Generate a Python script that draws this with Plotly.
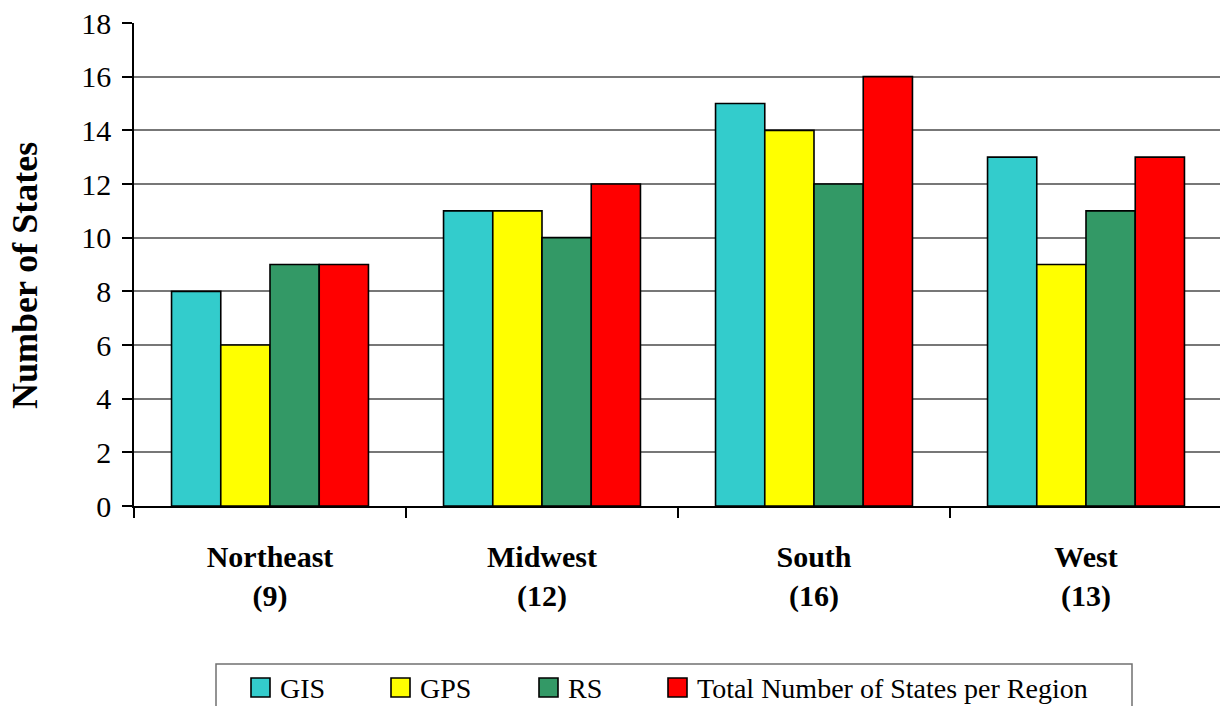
import plotly.graph_objects as go

# Survey results by census region
regions = ["Northeast", "Midwest", "South", "West"]
states_per_region = [9, 12, 16, 13]
gis = [8, 11, 15, 13]
gps = [6, 11, 14, 9]
rs = [9, 10, 12, 11]
total = [9, 12, 16, 13]

series_names = ["GIS", "GPS", "RS", "Total Number of States per Region"]
series_values = [gis, gps, rs, total]
series_colors = ["#33CCCC", "#FFFF00", "#339966", "#FF0000"]

y_ticks = list(range(0, 19, 2))
category_labels = [f"<b>{r}<br>({n})</b>" for r, n in zip(regions, states_per_region)]

FONT = "'Times New Roman', 'Liberation Serif', 'DejaVu Serif', serif"
W, H = 1220, 706
L, T, B, R = 134, 23, 200, 0
PLOT_W = W - L - R
PLOT_H = H - T - B


def px_x(x):
    return (x - L) / PLOT_W


def px_y(y):
    return (H - B - y) / PLOT_H


fig = go.Figure()
for name, vals, col in zip(series_names, series_values, series_colors):
    fig.add_trace(go.Bar(
        name=name, x=category_labels, y=vals,
        marker=dict(color=col, line=dict(color="black", width=1.6)),
        showlegend=False,
    ))

# boxed legend along the bottom edge
shapes = [dict(type="rect", xref="paper", yref="paper",
               x0=px_x(216), x1=px_x(1132), y0=px_y(730), y1=px_y(664),
               line=dict(color="#707070", width=1.5), fillcolor="white")]
annotations = []
swatch_x = [251, 391, 539, 668]
for sx, name, col in zip(swatch_x, series_names, series_colors):
    shapes.append(dict(type="rect", xref="paper", yref="paper",
                       x0=px_x(sx), x1=px_x(sx + 19), y0=px_y(697), y1=px_y(678),
                       line=dict(color="black", width=1.6), fillcolor=col))
    annotations.append(dict(xref="paper", yref="paper", x=px_x(sx + 27), y=px_y(688),
                            xanchor="left", yanchor="middle", showarrow=False,
                            text=name, font=dict(family=FONT, size=28, color="black")))

annotations.append(dict(xref="paper", yref="paper", x=px_x(25), y=px_y(276),
                        xanchor="center", yanchor="middle", showarrow=False,
                        textangle=-90, text="<b>Number of States</b>",
                        font=dict(family=FONT, size=36, color="black")))

fig.update_layout(
    width=W, height=H,
    margin=dict(l=L, r=R, t=T, b=B),
    paper_bgcolor="white", plot_bgcolor="white",
    barmode="group", bargap=0.276, bargroupgap=0,
    font=dict(family=FONT, color="black"),
    shapes=shapes, annotations=annotations,
    showlegend=False,
)
fig.update_xaxes(
    range=[-0.5, -0.5 + PLOT_W / 272.0],
    showline=True, linecolor="black", linewidth=1.5,
    ticks="outside", tickson="boundaries", ticklen=10, tickcolor="black", tickwidth=1.5,
    tickfont=dict(family=FONT, size=30, color="black"),
    ticklabelstandoff=23, showgrid=False, zeroline=False,
)
fig.update_yaxes(
    range=[0, 18], tickvals=y_ticks,
    showline=True, linecolor="black", linewidth=1.5,
    ticks="outside", ticklen=10, tickcolor="black", tickwidth=1.5,
    tickfont=dict(family=FONT, size=30, color="black"),
    ticklabelstandoff=5,
    showgrid=True, gridcolor="#777777", gridwidth=1.5, zeroline=False,
)

fig.write_html("out.html")
